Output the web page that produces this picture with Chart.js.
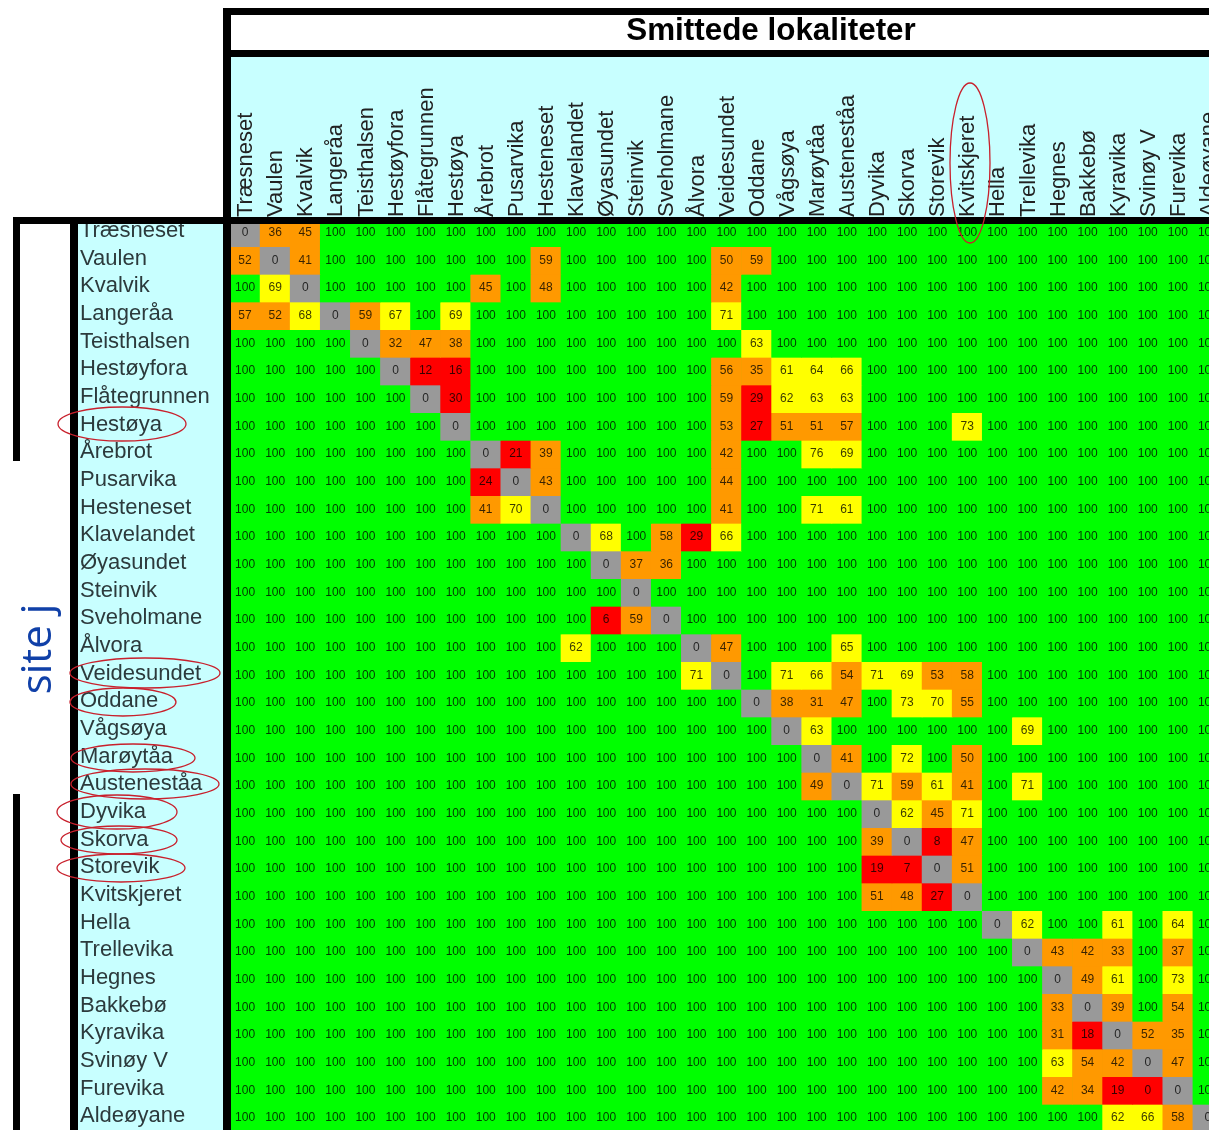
<!DOCTYPE html>
<html>
<head>
<meta charset="utf-8">
<title>Smittede lokaliteter</title>
<script src="https://cdn.jsdelivr.net/npm/chart.js@4/dist/chart.umd.min.js"></script>
<style>
    html, body { margin: 0; padding: 0; background: #fff; overflow: hidden; width: 1209px; height: 1130px; }
    canvas { display: block; filter: blur(0.7px); }
</style>
</head>
<body>
<canvas id="heatmap" width="1223" height="1132"></canvas>
<script>
'use strict';

const chartTitle = 'Smittede lokaliteter';
const sideTitle = 'site j';

const sites = ['Træsneset', 'Vaulen', 'Kvalvik', 'Langeråa', 'Teisthalsen', 'Hestøyfora', 'Flåtegrunnen', 'Hestøya',
    'Årebrot', 'Pusarvika', 'Hesteneset', 'Klavelandet', 'Øyasundet', 'Steinvik', 'Sveholmane', 'Ålvora',
    'Veidesundet', 'Oddane', 'Vågsøya', 'Marøytåa', 'Austeneståa', 'Dyvika', 'Skorva', 'Storevik',
    'Kvitskjeret', 'Hella', 'Trellevika', 'Hegnes', 'Bakkebø', 'Kyravika', 'Svinøy V', 'Furevika', 'Aldeøyane'];

const rowTraesneset = [0, 36, 45, 100, 100, 100, 100, 100, 100, 100, 100, 100, 100, 100, 100, 100, 100, 100, 100, 100, 100, 100, 100, 100, 100, 100, 100, 100, 100, 100, 100, 100, 100];
const rowVaulen = [52, 0, 41, 100, 100, 100, 100, 100, 100, 100, 59, 100, 100, 100, 100, 100, 50, 59, 100, 100, 100, 100, 100, 100, 100, 100, 100, 100, 100, 100, 100, 100, 100];
const rowKvalvik = [100, 69, 0, 100, 100, 100, 100, 100, 45, 100, 48, 100, 100, 100, 100, 100, 42, 100, 100, 100, 100, 100, 100, 100, 100, 100, 100, 100, 100, 100, 100, 100, 100];
const rowLangeraa = [57, 52, 68, 0, 59, 67, 100, 69, 100, 100, 100, 100, 100, 100, 100, 100, 71, 100, 100, 100, 100, 100, 100, 100, 100, 100, 100, 100, 100, 100, 100, 100, 100];
const rowTeisthalsen = [100, 100, 100, 100, 0, 32, 47, 38, 100, 100, 100, 100, 100, 100, 100, 100, 100, 63, 100, 100, 100, 100, 100, 100, 100, 100, 100, 100, 100, 100, 100, 100, 100];
const rowHestoyfora = [100, 100, 100, 100, 100, 0, 12, 16, 100, 100, 100, 100, 100, 100, 100, 100, 56, 35, 61, 64, 66, 100, 100, 100, 100, 100, 100, 100, 100, 100, 100, 100, 100];
const rowFlategrunnen = [100, 100, 100, 100, 100, 100, 0, 30, 100, 100, 100, 100, 100, 100, 100, 100, 59, 29, 62, 63, 63, 100, 100, 100, 100, 100, 100, 100, 100, 100, 100, 100, 100];
const rowHestoya = [100, 100, 100, 100, 100, 100, 100, 0, 100, 100, 100, 100, 100, 100, 100, 100, 53, 27, 51, 51, 57, 100, 100, 100, 73, 100, 100, 100, 100, 100, 100, 100, 100];
const rowArebrot = [100, 100, 100, 100, 100, 100, 100, 100, 0, 21, 39, 100, 100, 100, 100, 100, 42, 100, 100, 76, 69, 100, 100, 100, 100, 100, 100, 100, 100, 100, 100, 100, 100];
const rowPusarvika = [100, 100, 100, 100, 100, 100, 100, 100, 24, 0, 43, 100, 100, 100, 100, 100, 44, 100, 100, 100, 100, 100, 100, 100, 100, 100, 100, 100, 100, 100, 100, 100, 100];
const rowHesteneset = [100, 100, 100, 100, 100, 100, 100, 100, 41, 70, 0, 100, 100, 100, 100, 100, 41, 100, 100, 71, 61, 100, 100, 100, 100, 100, 100, 100, 100, 100, 100, 100, 100];
const rowKlavelandet = [100, 100, 100, 100, 100, 100, 100, 100, 100, 100, 100, 0, 68, 100, 58, 29, 66, 100, 100, 100, 100, 100, 100, 100, 100, 100, 100, 100, 100, 100, 100, 100, 100];
const rowOyasundet = [100, 100, 100, 100, 100, 100, 100, 100, 100, 100, 100, 100, 0, 37, 36, 100, 100, 100, 100, 100, 100, 100, 100, 100, 100, 100, 100, 100, 100, 100, 100, 100, 100];
const rowSteinvik = [100, 100, 100, 100, 100, 100, 100, 100, 100, 100, 100, 100, 100, 0, 100, 100, 100, 100, 100, 100, 100, 100, 100, 100, 100, 100, 100, 100, 100, 100, 100, 100, 100];
const rowSveholmane = [100, 100, 100, 100, 100, 100, 100, 100, 100, 100, 100, 100, 6, 59, 0, 100, 100, 100, 100, 100, 100, 100, 100, 100, 100, 100, 100, 100, 100, 100, 100, 100, 100];
const rowAlvora = [100, 100, 100, 100, 100, 100, 100, 100, 100, 100, 100, 62, 100, 100, 100, 0, 47, 100, 100, 100, 65, 100, 100, 100, 100, 100, 100, 100, 100, 100, 100, 100, 100];
const rowVeidesundet = [100, 100, 100, 100, 100, 100, 100, 100, 100, 100, 100, 100, 100, 100, 100, 71, 0, 100, 71, 66, 54, 71, 69, 53, 58, 100, 100, 100, 100, 100, 100, 100, 100];
const rowOddane = [100, 100, 100, 100, 100, 100, 100, 100, 100, 100, 100, 100, 100, 100, 100, 100, 100, 0, 38, 31, 47, 100, 73, 70, 55, 100, 100, 100, 100, 100, 100, 100, 100];
const rowVagsoya = [100, 100, 100, 100, 100, 100, 100, 100, 100, 100, 100, 100, 100, 100, 100, 100, 100, 100, 0, 63, 100, 100, 100, 100, 100, 100, 69, 100, 100, 100, 100, 100, 100];
const rowMaroytaa = [100, 100, 100, 100, 100, 100, 100, 100, 100, 100, 100, 100, 100, 100, 100, 100, 100, 100, 100, 0, 41, 100, 72, 100, 50, 100, 100, 100, 100, 100, 100, 100, 100];
const rowAustenestaa = [100, 100, 100, 100, 100, 100, 100, 100, 100, 100, 100, 100, 100, 100, 100, 100, 100, 100, 100, 49, 0, 71, 59, 61, 41, 100, 71, 100, 100, 100, 100, 100, 100];
const rowDyvika = [100, 100, 100, 100, 100, 100, 100, 100, 100, 100, 100, 100, 100, 100, 100, 100, 100, 100, 100, 100, 100, 0, 62, 45, 71, 100, 100, 100, 100, 100, 100, 100, 100];
const rowSkorva = [100, 100, 100, 100, 100, 100, 100, 100, 100, 100, 100, 100, 100, 100, 100, 100, 100, 100, 100, 100, 100, 39, 0, 8, 47, 100, 100, 100, 100, 100, 100, 100, 100];
const rowStorevik = [100, 100, 100, 100, 100, 100, 100, 100, 100, 100, 100, 100, 100, 100, 100, 100, 100, 100, 100, 100, 100, 19, 7, 0, 51, 100, 100, 100, 100, 100, 100, 100, 100];
const rowKvitskjeret = [100, 100, 100, 100, 100, 100, 100, 100, 100, 100, 100, 100, 100, 100, 100, 100, 100, 100, 100, 100, 100, 51, 48, 27, 0, 100, 100, 100, 100, 100, 100, 100, 100];
const rowHella = [100, 100, 100, 100, 100, 100, 100, 100, 100, 100, 100, 100, 100, 100, 100, 100, 100, 100, 100, 100, 100, 100, 100, 100, 100, 0, 62, 100, 100, 61, 100, 64, 100];
const rowTrellevika = [100, 100, 100, 100, 100, 100, 100, 100, 100, 100, 100, 100, 100, 100, 100, 100, 100, 100, 100, 100, 100, 100, 100, 100, 100, 100, 0, 43, 42, 33, 100, 37, 100];
const rowHegnes = [100, 100, 100, 100, 100, 100, 100, 100, 100, 100, 100, 100, 100, 100, 100, 100, 100, 100, 100, 100, 100, 100, 100, 100, 100, 100, 100, 0, 49, 61, 100, 73, 100];
const rowBakkebo = [100, 100, 100, 100, 100, 100, 100, 100, 100, 100, 100, 100, 100, 100, 100, 100, 100, 100, 100, 100, 100, 100, 100, 100, 100, 100, 100, 33, 0, 39, 100, 54, 100];
const rowKyravika = [100, 100, 100, 100, 100, 100, 100, 100, 100, 100, 100, 100, 100, 100, 100, 100, 100, 100, 100, 100, 100, 100, 100, 100, 100, 100, 100, 31, 18, 0, 52, 35, 100];
const rowSvinoyV = [100, 100, 100, 100, 100, 100, 100, 100, 100, 100, 100, 100, 100, 100, 100, 100, 100, 100, 100, 100, 100, 100, 100, 100, 100, 100, 100, 63, 54, 42, 0, 47, 100];
const rowFurevika = [100, 100, 100, 100, 100, 100, 100, 100, 100, 100, 100, 100, 100, 100, 100, 100, 100, 100, 100, 100, 100, 100, 100, 100, 100, 100, 100, 42, 34, 19, 0, 0, 100];
const rowAldeoyane = [100, 100, 100, 100, 100, 100, 100, 100, 100, 100, 100, 100, 100, 100, 100, 100, 100, 100, 100, 100, 100, 100, 100, 100, 100, 100, 100, 100, 100, 62, 66, 58, 0];

const rows = [rowTraesneset, rowVaulen, rowKvalvik, rowLangeraa, rowTeisthalsen, rowHestoyfora, rowFlategrunnen, rowHestoya,
    rowArebrot, rowPusarvika, rowHesteneset, rowKlavelandet, rowOyasundet, rowSteinvik, rowSveholmane, rowAlvora,
    rowVeidesundet, rowOddane, rowVagsoya, rowMaroytaa, rowAustenestaa, rowDyvika, rowSkorva, rowStorevik,
    rowKvitskjeret, rowHella, rowTrellevika, rowHegnes, rowBakkebo, rowKyravika, rowSvinoyV, rowFurevika, rowAldeoyane];

function cellColor(value, row, col) {
    if (row === col) return '#999999';
    if (value <= 30) return '#ff0000';
    if (value < 60) return '#ff9900';
    if (value < 100) return '#ffff00';
    return '#00ff00';
}

const datasets = rows.map((values, r) => ({
    label: sites[r],
    data: values.map((v, c) => ({ x: sites[c], y: [r - 0.5, r + 0.5], value: v })),
    backgroundColor: values.map((v, c) => cellColor(v, r, c)),
    borderWidth: 0,
    grouped: false,
    barPercentage: 1,
    categoryPercentage: 1
}));

// Table frame, header text and the numbers inside the cells
const tablePlugin = {
    id: 'table',
    beforeDraw: function (chart) {
        const ctx = chart.ctx;
        ctx.save();
        ctx.fillStyle = '#c8ffff';
        ctx.fillRect(231, 57, 1000, 160);
        ctx.fillRect(78, 224, 146, 910);
        ctx.restore();
    },
    beforeDatasetsDraw: function (chart) {
        // covers hairline seams between neighbouring cells
        const area = chart.chartArea;
        chart.ctx.fillStyle = '#00ff00';
        chart.ctx.fillRect(area.left, area.top, area.right - area.left, area.bottom - area.top);
    },
    afterDatasetsDraw: function (chart) {
        const ctx = chart.ctx;
        ctx.save();
        ctx.font = '12px "Liberation Sans"';
        ctx.textAlign = 'center';
        ctx.textBaseline = 'middle';
        ctx.fillStyle = 'rgba(0, 0, 0, 0.78)';
        chart.data.datasets.forEach((dataset, r) => {
            chart.getDatasetMeta(r).data.forEach((bar, c) => {
                const center = bar.getCenterPoint();
                ctx.fillText(dataset.data[c].value, center.x, center.y);
            });
        });
        ctx.restore();
    },
    afterDraw: function (chart) {
        const ctx = chart.ctx;
        ctx.save();

        // black frame
        ctx.fillStyle = '#000';
        ctx.fillRect(223, 8, 1000, 7);
        ctx.fillRect(223, 50, 1000, 7);
        ctx.fillRect(13, 217, 1210, 7);
        ctx.fillRect(223, 8, 8, 1130);
        ctx.fillRect(70, 224, 8, 910);
        ctx.fillRect(13, 217, 7, 244);
        ctx.fillRect(13, 794, 7, 340);

        ctx.font = 'bold 31.4px "Liberation Sans"';
        ctx.textAlign = 'center';
        ctx.textBaseline = 'middle';
        ctx.fillText(chartTitle, 771, 31);

        ctx.save();
        ctx.translate(39, 649);
        ctx.rotate(-Math.PI / 2);
        ctx.fillStyle = '#1040a8';
        ctx.font = '42px "Open Sans"';
        ctx.fillText(sideTitle, 0, 0);
        ctx.restore();

        // hand drawn rings
        ctx.strokeStyle = '#c8202c';
        ctx.lineWidth = 1.3;
        const rings = [[122, 424, 64, 17], [145, 673, 75, 15], [123, 702, 53, 14], [133, 758, 62, 14],
            [145, 784, 74, 15], [117, 812, 60, 17], [119, 840, 58, 14], [121, 868, 64, 14], [970, 163, 20, 80]];
        rings.forEach((s) => {
            ctx.beginPath();
            ctx.ellipse(s[0], s[1], s[2], s[3], 0, 0, Math.PI * 2);
            ctx.stroke();
        });

        ctx.restore();
    }
};

new Chart(document.getElementById('heatmap'), {
    type: 'bar',
    data: { labels: sites, datasets: datasets },
    plugins: [tablePlugin],
    options: {
        responsive: false,
        animation: false,
        layout: { padding: { left: 80, top: 0, right: 0, bottom: 0 } },
        plugins: { legend: { display: false }, tooltip: { enabled: false } },
        scales: {
            x: {
                type: 'category',
                position: 'top',
                grid: { display: false, drawTicks: false },
                border: { display: false },
                ticks: {
                    autoSkip: false,
                    minRotation: 90,
                    maxRotation: 90,
                    padding: 2,
                    labelOffset: 27.5,
                    color: '#222',
                    font: { family: '"Liberation Sans"', size: 22 }
                },
                afterFit: function (scale) {
                    scale.height = 219;
                    scale.paddingLeft = 0;
                    scale.paddingRight = 0;
                }
            },
            y: {
                type: 'linear',
                reverse: true,
                min: -0.5,
                max: 32.5,
                grid: { display: false, drawTicks: false },
                border: { display: false },
                afterBuildTicks: function (scale) {
                    scale.ticks = sites.map((_, i) => ({ value: i }));
                },
                ticks: {
                    autoSkip: false,
                    crossAlign: 'far',
                    padding: 0,
                    labelOffset: -2,
                    color: '#2c3a3c',
                    font: { family: '"Liberation Sans"', size: 22 },
                    callback: function (value) { return sites[value]; }
                },
                afterFit: function (scale) {
                    scale.width = 150;
                    scale.paddingTop = 0;
                    scale.paddingBottom = 0;
                }
            }
        }
    }
});
</script>
</body>
</html>
